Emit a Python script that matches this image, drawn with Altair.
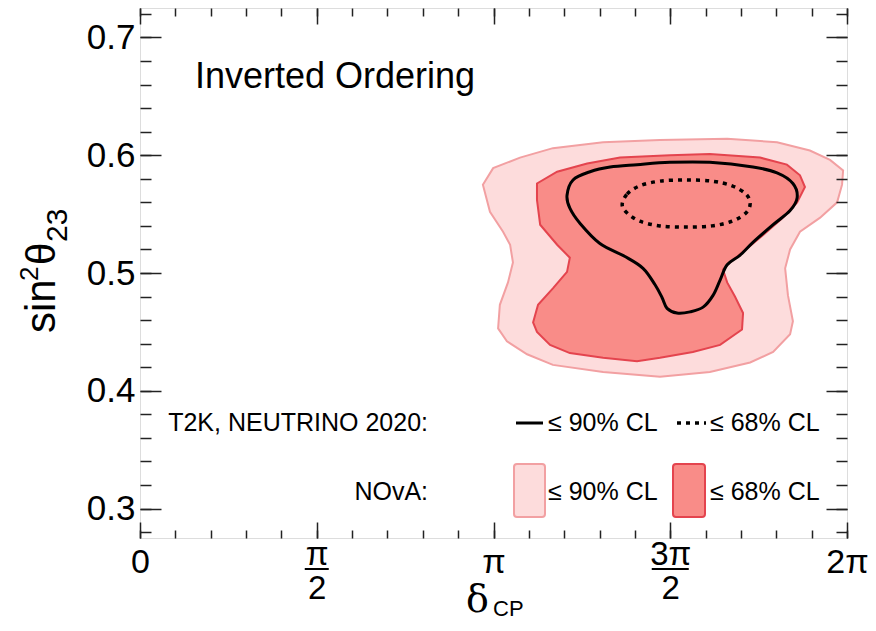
import altair as alt
import pandas as pd

# delta_CP in units of pi, sin^2(theta23)
nova90_x = [0.970, 0.999, 1.075, 1.168, 1.310, 1.471, 1.661, 1.802, 1.895, 1.952, 1.989, 1.986,
            1.972, 1.924, 1.867, 1.839, 1.825, 1.833, 1.847, 1.839, 1.791, 1.726, 1.612, 1.471,
            1.310, 1.168, 1.095, 1.038, 1.013, 1.018, 1.041, 1.055, 1.047, 1.027, 0.990]
nova90_y = [0.575, 0.589, 0.598, 0.606, 0.611, 0.613, 0.614, 0.611, 0.604, 0.596, 0.587, 0.575,
            0.560, 0.547, 0.535, 0.520, 0.504, 0.481, 0.459, 0.448, 0.433, 0.424, 0.416, 0.412,
            0.416, 0.422, 0.431, 0.442, 0.453, 0.473, 0.492, 0.509, 0.524, 0.535, 0.552]

nova68_x = [1.123, 1.123, 1.180, 1.265, 1.358, 1.499, 1.612, 1.754, 1.830, 1.867, 1.881, 1.859,
            1.819, 1.762, 1.706, 1.669, 1.649, 1.661, 1.683, 1.706, 1.703, 1.641, 1.564, 1.471,
            1.406, 1.310, 1.216, 1.160, 1.123, 1.112, 1.126, 1.168, 1.208, 1.216, 1.180, 1.132]
nova68_y = [0.562, 0.576, 0.586, 0.593, 0.598, 0.600, 0.601, 0.598, 0.592, 0.583, 0.573, 0.560,
            0.547, 0.532, 0.518, 0.509, 0.503, 0.492, 0.480, 0.466, 0.452, 0.439, 0.433, 0.428,
            0.425, 0.428, 0.432, 0.439, 0.450, 0.458, 0.473, 0.487, 0.501, 0.513, 0.524, 0.541]

t2k90_x = [1.208, 1.225, 1.273, 1.330, 1.406, 1.499, 1.612, 1.734, 1.802, 1.847, 1.859, 1.839,
           1.791, 1.734, 1.697, 1.661, 1.641, 1.621, 1.593, 1.556, 1.519, 1.491, 1.477, 1.457,
           1.423, 1.372, 1.301, 1.245, 1.216]
t2k90_y = [0.566, 0.579, 0.586, 0.590, 0.592, 0.594, 0.594, 0.590, 0.585, 0.576, 0.564, 0.553,
           0.541, 0.526, 0.515, 0.507, 0.494, 0.481, 0.471, 0.467, 0.466, 0.470, 0.479, 0.490,
           0.504, 0.514, 0.525, 0.542, 0.555]

t2k68_x = [1.364, 1.378, 1.414, 1.471, 1.545, 1.618, 1.675, 1.714, 1.726, 1.714, 1.675, 1.618,
           1.545, 1.471, 1.414, 1.378]
t2k68_y = [0.558, 0.567, 0.574, 0.578, 0.579, 0.578, 0.574, 0.567, 0.559, 0.551, 0.544, 0.540,
           0.539, 0.540, 0.544, 0.551]

x_whole = [0, 1, 2]
x_frac = [0.5, 1.5]
x_major = [0, 0.5, 1, 1.5, 2]
x_minor = [i / 10 for i in range(21)]
y_major = [0.3, 0.4, 0.5, 0.6, 0.7]
y_minor = [round(0.28 + 0.02 * i, 2) for i in range(23)]

title_text = "Inverted Ordering"
t2k_label = "T2K, NEUTRINO 2020:"
nova_label = "NOvA:"
cl90 = "≤ 90% CL"
cl68 = "≤ 68% CL"
ytitle_parts = ["sin", "2", "θ", "23"]
xtitle_parts = ["δ", "CP"]

FONT = "Liberation Sans"
W, H = 707, 530
LIGHT_FILL, LIGHT_STROKE = "#FDDCDC", "#F2A0A2"
DARK_FILL, DARK_STROKE = "#F98C88", "#E4444E"

xs = alt.Scale(domain=[0, 2], nice=False, zero=False)
ys = alt.Scale(domain=[0.275, 0.725], nice=False, zero=False)


def poly_df(xv, yv):
    return pd.DataFrame({"dcp": xv, "s23": yv, "idx": list(range(len(xv)))})


x_label_axis = alt.Axis(
    orient="bottom", values=x_whole, ticks=False, tickSize=0, domain=False, grid=False,
    labelExpr="datum.value == 0 ? '0' : datum.value == 1 ? 'π' : '2π'",
    labelFont=FONT, labelFontSize=34, labelPadding=7, labelColor="black",
    labelFlush=False, labelOverlap=False,
    title=xtitle_parts[0], titleFont="DejaVu Serif", titleFontSize=38, titleFontWeight="normal",
    titleColor="black", titleX=337, titleY=73, titleAlign="center", titleBaseline="alphabetic")

x_frac_axis = alt.Axis(
    orient="bottom", values=x_frac, ticks=False, tickSize=0, domain=False, grid=False,
    labelExpr="datum.value == 0.5 ? ['π', '2'] : ['3π', '2']",
    labelFont=FONT, labelFontSize=33, labelPadding=0, labelLineHeight=34, labelColor="black",
    labelFlush=False, labelOverlap=False, title=None)

y_label_axis = alt.Axis(
    orient="left", values=y_major, format=".1f", ticks=False, tickSize=0, domain=False, grid=False,
    labelFont=FONT, labelFontSize=35, labelPadding=5, labelColor="black", labelOverlap=False,
    title=None)


def poly(xv, yv, interp, stroke, sw, fill=None, dash=None, xaxis=None, yaxis=None):
    kw = dict(interpolate=interp, stroke=stroke, strokeWidth=sw)
    if fill:
        kw["fill"] = fill
    if dash:
        kw["strokeDash"] = dash
    return alt.Chart(poly_df(xv, yv)).mark_line(**kw).encode(
        x=alt.X("dcp:Q", scale=xs, axis=xaxis),
        y=alt.Y("s23:Q", scale=ys, axis=yaxis),
        order="idx:Q",
    )


light = poly(nova90_x, nova90_y, "linear-closed", LIGHT_STROKE, 2, fill=LIGHT_FILL,
             xaxis=x_label_axis, yaxis=y_label_axis)
dark = poly(nova68_x, nova68_y, "linear-closed", DARK_STROKE, 2, fill=DARK_FILL,
            xaxis=x_frac_axis)
t2k90 = poly(t2k90_x, t2k90_y, "cardinal-closed", "black", 3)
t2k68 = poly(t2k68_x, t2k68_y, "cardinal-closed", "black", 3.5, dash=[4, 5])


def tick_layer(xorient, yorient, xvals, yvals, xlen, ylen):
    xa = alt.Axis(orient=xorient, offset=-H, values=xvals, tickSize=xlen, tickWidth=1.5,
                  tickColor="#222222", labels=False, domain=False, grid=False, title=None, zindex=1)
    ya = alt.Axis(orient=yorient, offset=-W, values=yvals, tickSize=ylen, tickWidth=1.5,
                  tickColor="#222222", labels=False, domain=False, grid=False, title=None, zindex=1)
    return alt.Chart(poly_df(t2k68_x, t2k68_y)).mark_point(opacity=0).encode(
        x=alt.X("dcp:Q", scale=xs, axis=xa),
        y=alt.Y("s23:Q", scale=ys, axis=ya),
    )


ticks = [
    tick_layer("top", "right", x_major, y_major, 16, 21),
    tick_layer("top", "right", x_minor, y_minor, 8, 11),
    tick_layer("bottom", "left", x_major, y_major, 16, 21),
    tick_layer("bottom", "left", x_minor, y_minor, 8, 11),
]


def text(t, x, y, size, align="left", baseline="middle", font=FONT, angle=0):
    mk = dict(align=align, baseline=baseline, font=font, fontSize=size, color="black")
    if angle:
        mk["angle"] = angle
    return alt.Chart(pd.DataFrame({"t": [t]})).mark_text(**mk).encode(
        text="t:N", x=alt.value(x), y=alt.value(y))


dummy = pd.DataFrame({"k": [0]})

frac_bar_1 = alt.Chart(pd.DataFrame({"v": [x_frac[0]]})).mark_tick(
    orient="horizontal", size=24, thickness=2, color="black", opacity=1
).encode(x=alt.X("v:Q", scale=xs, axis=None), y=alt.value(561))
frac_bar_3 = alt.Chart(pd.DataFrame({"v": [x_frac[1]]})).mark_tick(
    orient="horizontal", size=37, thickness=2, color="black", opacity=1
).encode(x=alt.X("v:Q", scale=xs, axis=None), y=alt.value(561))

leg_line = alt.Chart(dummy).mark_rule(color="black", strokeWidth=3).encode(
    x=alt.value(376), x2=alt.value(403), y=alt.value(415))
leg_dot = alt.Chart(dummy).mark_rule(color="black", strokeWidth=3.5, strokeDash=[4, 5]).encode(
    x=alt.value(537), x2=alt.value(566), y=alt.value(415))
leg_box_l = alt.Chart(dummy).mark_rect(fill=LIGHT_FILL, stroke=LIGHT_STROKE, strokeWidth=2,
                                       cornerRadius=3).encode(
    x=alt.value(374), x2=alt.value(405), y=alt.value(456), y2=alt.value(509))
leg_box_d = alt.Chart(dummy).mark_rect(fill=DARK_FILL, stroke=DARK_STROKE, strokeWidth=2,
                                       cornerRadius=3).encode(
    x=alt.value(533), x2=alt.value(565), y=alt.value(456), y2=alt.value(509))

cp_sub = text(xtitle_parts[1], 353, 608, 22, baseline="alphabetic")

ytitle = [
    text(ytitle_parts[0], -85, 325, 42, baseline="alphabetic", angle=270),
    text(ytitle_parts[1], -102, 273, 26, baseline="alphabetic", angle=270),
    text(ytitle_parts[2], -85, 257, 40, baseline="alphabetic", angle=270),
    text(ytitle_parts[3], -73, 234, 30, baseline="alphabetic", angle=270),
]

layers = [light, dark, t2k90, t2k68,
          text(title_text, 55, 80, 36, baseline="alphabetic"),
          text(t2k_label, 288, 415, 25, align="right"),
          text(nova_label, 288, 484, 25, align="right"),
          leg_line, text(cl90, 408, 415, 25), leg_dot, text(cl68, 570, 415, 25),
          leg_box_l, text(cl90, 408, 484, 25), leg_box_d, text(cl68, 570, 484, 25),
          frac_bar_1, frac_bar_3, cp_sub] + ytitle + ticks

chart = alt.layer(*layers).resolve_axis(x="independent", y="independent").properties(
    width=W, height=H,
    autosize=alt.AutoSizeParams(type="none"),
    padding={"left": 132, "top": 0, "right": 21, "bottom": 85},
).configure_view(stroke="black", strokeWidth=2).configure(background="white")

chart.save("out.html", embed_options={"renderer": "svg", "actions": False})
